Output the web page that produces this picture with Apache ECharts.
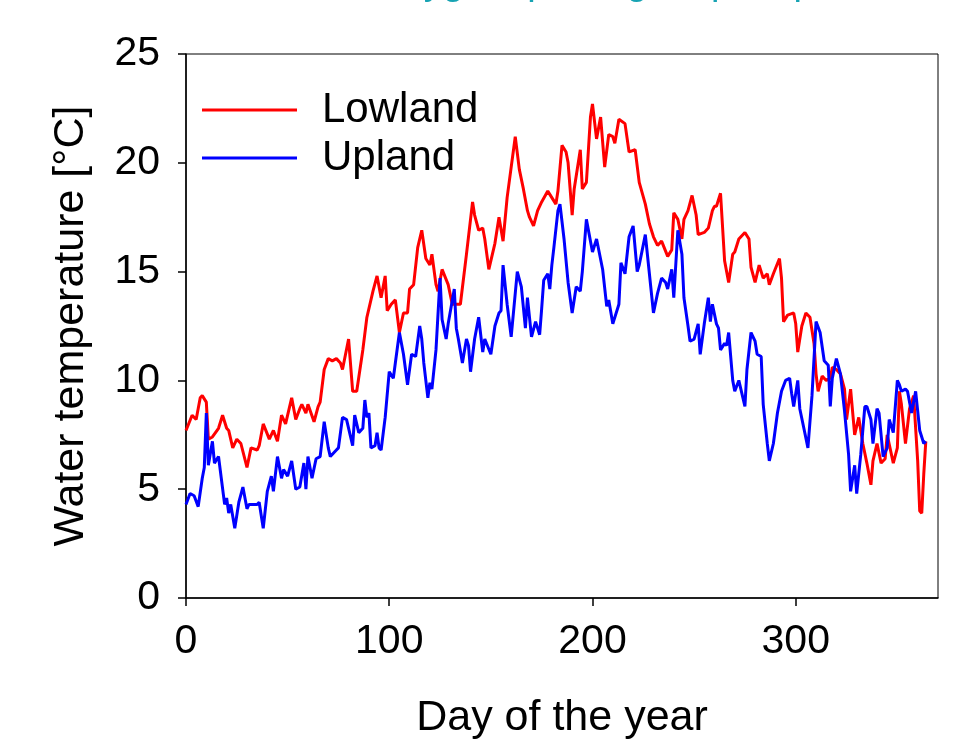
<!DOCTYPE html>
<html>
<head>
<meta charset="utf-8">
<script src="https://cdn.jsdelivr.net/npm/echarts@6/dist/echarts.min.js"></script>
<style>
  html, body { margin: 0; padding: 0; background: #fff; }
  #chart { width: 967px; height: 746px; }
</style>
</head>
<body>
<div id="chart"></div>
<script>
// 低地 (Lowland) — day of year / water temperature
const lowlandDays = [0,3,5,7,8,10,11,13,16,18,20,21,23,25,27,30,32,35,36,38,41,43,45,47,49,52,54,56,57,59,60,63,65,66,68,70,72,74,76,77,80,82,84,87,89,92,94,96,98,99,101,103,105,107,109,110,112,114,116,118,120,121,123,124,126,129,131,133,135,138,141,142,144,146,147,149,152,154,156,158,160,162,164,166,168,169,171,173,175,178,180,182,183,185,187,188,190,191,194,195,197,199,200,202,204,206,208,210,211,213,216,218,221,223,226,228,230,232,234,237,239,240,242,244,245,247,249,251,252,255,257,259,260,261,263,265,267,269,270,272,275,277,278,280,282,284,286,287,289,292,293,294,296,299,300,301,303,305,307,309,310,311,313,315,317,318,320,322,324,325,327,329,331,333,335,337,338,340,342,344,345,348,350,351,352,354,356,358,360,361,362,363,364]
const lowlandTemp = [7.7,8.4,8.2,9.2,9.3,9.0,7.3,7.4,7.8,8.4,7.8,7.7,6.9,7.3,7.1,6.0,6.9,6.8,7.0,8.0,7.3,7.7,7.2,8.4,8.0,9.2,8.2,8.7,8.9,8.5,8.9,8.1,8.8,9.0,10.5,11.0,10.9,11.0,10.8,10.5,11.9,9.5,9.5,11.4,12.9,14.1,14.8,13.8,14.8,13.2,13.5,13.7,12.2,13.1,13.1,14.2,14.4,16.1,16.9,15.6,15.3,15.8,14.4,14.1,15.1,14.4,13.5,13.5,13.5,15.8,18.2,17.6,16.9,17.0,16.5,15.1,16.3,17.5,16.4,18.4,19.8,21.2,19.7,18.8,17.8,17.5,17.1,17.8,18.2,18.7,18.4,18.1,18.7,20.8,20.5,20.0,17.6,18.8,20.6,18.8,19.1,22.1,22.7,21.1,22.1,19.8,21.3,21.2,20.9,22.0,21.8,20.5,20.6,19.1,18.1,17.2,16.6,16.2,16.4,15.7,16.0,17.7,17.4,16.5,17.4,17.8,18.5,17.6,16.7,16.8,17.0,17.8,18.0,18.0,18.6,15.5,14.5,15.8,15.9,16.5,16.8,16.5,15.2,14.5,15.3,14.7,14.9,14.4,14.9,15.6,14.7,12.7,13.0,13.1,12.6,11.3,12.5,13.1,12.9,11.7,10.3,9.5,10.2,10.0,10.1,10.6,10.5,10.3,9.6,8.2,9.6,7.5,8.3,7.1,6.2,5.2,6.3,7.1,6.2,6.4,7.5,6.2,6.9,9.5,8.9,7.1,8.7,9.3,6.3,4.0,3.9,5.7,7.2]

// 山地 (Upland)
const uplandDays = [0,2,4,6,8,9,10,11,13,14,16,19,20,21,22,24,26,28,30,31,35,36,38,40,42,43,45,47,48,50,52,54,56,58,59,60,62,64,66,68,70,71,74,75,77,79,82,83,85,87,88,89,90,91,93,94,95,96,98,100,102,103,105,107,109,111,113,115,116,117,119,120,121,123,125,126,128,129,132,133,134,136,138,139,140,142,144,146,147,150,152,154,155,156,158,160,163,165,167,168,170,172,174,175,176,178,179,180,181,183,184,186,188,190,192,194,195,197,200,202,205,207,208,210,213,214,216,218,220,222,223,226,228,230,232,234,236,237,239,240,242,244,245,247,248,250,252,253,255,257,258,259,261,262,263,265,266,267,269,270,272,275,276,278,280,281,283,284,286,287,289,291,293,295,297,298,299,301,302,304,306,308,310,312,314,316,317,318,320,322,324,326,327,329,330,332,334,335,337,338,340,341,343,345,346,348,350,351,352,354,355,357,359,361,363,364]
const uplandTemp = [4.3,4.8,4.7,4.2,5.5,6.0,8.5,6.1,7.2,6.2,6.5,4.3,4.6,3.9,4.3,3.2,4.4,5.1,4.1,4.3,4.3,4.4,3.2,4.9,5.6,4.9,6.5,5.5,5.9,5.6,6.3,5.0,5.1,6.2,5.0,6.5,5.5,6.4,6.5,8.1,6.9,6.5,6.8,6.9,8.3,8.2,7.0,8.4,7.6,7.8,9.1,8.3,8.5,6.9,7.0,7.6,6.9,6.8,8.3,10.4,10.1,10.8,12.2,11.2,9.8,11.2,11.1,12.5,11.9,10.8,9.2,9.9,9.6,11.4,14.7,12.8,11.9,12.6,14.2,12.4,11.9,10.8,11.9,11.6,10.4,11.9,12.9,11.3,11.9,11.2,12.5,13.1,13.2,15.3,13.5,12.0,15.0,14.3,12.4,13.8,12.0,12.7,12.1,13.3,14.6,14.9,14.2,15.3,16.1,17.8,18.1,16.5,14.5,13.1,14.3,14.1,15.0,17.4,15.9,16.5,15.1,13.4,13.7,12.6,13.5,15.4,14.9,16.6,17.1,15.0,15.3,16.7,14.9,13.1,14.0,14.7,14.5,14.2,15.1,13.8,16.9,15.8,13.8,12.5,11.8,11.9,12.6,11.2,12.6,13.8,12.7,13.5,12.6,12.4,11.4,11.7,11.6,12.2,10.0,9.5,10.0,8.8,10.5,12.2,11.8,11.2,11.1,8.9,7.1,6.3,7.1,8.5,9.5,10.0,10.1,9.4,8.8,10.0,8.7,7.8,6.9,9.3,12.7,12.2,10.9,10.7,8.8,10.1,11.0,10.3,8.6,6.6,4.9,6.1,4.8,6.6,8.8,8.8,8.2,7.1,8.7,8.5,6.5,6.9,8.2,7.6,10.0,9.8,9.5,9.6,9.5,8.5,9.5,7.7,7.1,7.2]

const xTicks = [0, 100, 200, 300]
const yTicks = [0, 5, 10, 15, 20, 25]

const FONT = 'Liberation Sans, Arial, sans-serif'

function pairs(days, vals) {
  return days.map((d, i) => [d, vals[i]])
}

let chart = echarts.init(document.getElementById('chart'))

let option = {
  backgroundColor: '#fff',
  animation: false,
  textStyle: { fontFamily: FONT },
  graphic: [
    {
      // 页面上方被裁掉的标题，只露出字母下部
      type: 'text',
      left: 178,
      top: -35,
      style: {
        text: 'Water, flow, oxygen, pH, algae, phosphorus',
        fill: '#17a3b3',
        font: '38px ' + FONT
      }
    }
  ],
  legend: {
    orient: 'vertical',
    left: 202,
    top: 86,
    padding: 0,
    itemWidth: 95,
    itemHeight: 3,
    itemGap: 0,
    icon: 'rect',
    textStyle: {
      fontSize: 42,
      color: '#000',
      lineHeight: 48,
      padding: [0, 0, 0, 20]
    },
    data: ['Lowland', 'Upland']
  },
  grid: {
    left: 186,
    right: 29,
    top: 54,
    bottom: 148,
    show: true,
    borderColor: '#000',
    borderWidth: 1
  },
  xAxis: {
    type: 'value',
    min: 0,
    max: 370,
    interval: 100,
    name: 'Day of the year',
    nameLocation: 'middle',
    nameGap: 99,
    nameTextStyle: { fontSize: 43, color: '#000' },
    axisLine: { lineStyle: { color: '#000', width: 1.5 } },
    axisTick: { inside: false, length: 8, lineStyle: { color: '#000', width: 1.5 } },
    axisLabel: {
      fontSize: 41,
      color: '#000',
      margin: 23,
      showMaxLabel: false,
      formatter: v => (xTicks.includes(v) ? String(v) : '')
    },
    splitLine: { show: false }
  },
  yAxis: {
    type: 'value',
    min: 0,
    max: 25,
    interval: 5,
    name: 'Water temperature [°C]',
    nameLocation: 'middle',
    nameGap: 93,
    nameTextStyle: { fontSize: 43, color: '#000' },
    axisLine: { show: true, lineStyle: { color: '#000', width: 1.5 } },
    axisTick: { show: true, inside: false, length: 8, lineStyle: { color: '#000', width: 1.5 } },
    axisLabel: {
      fontSize: 41,
      color: '#000',
      margin: 26,
      formatter: v => (yTicks.includes(v) ? String(v) : '')
    },
    splitLine: { show: false }
  },
  series: [
    {
      name: 'Lowland',
      type: 'line',
      showSymbol: false,
      color: '#ff0000',
      lineStyle: { width: 3, color: '#ff0000' },
      data: pairs(lowlandDays, lowlandTemp)
    },
    {
      name: 'Upland',
      type: 'line',
      showSymbol: false,
      color: '#0000ff',
      lineStyle: { width: 3, color: '#0000ff' },
      data: pairs(uplandDays, uplandTemp)
    }
  ]
}

chart.setOption(option)
</script>
</body>
</html>
